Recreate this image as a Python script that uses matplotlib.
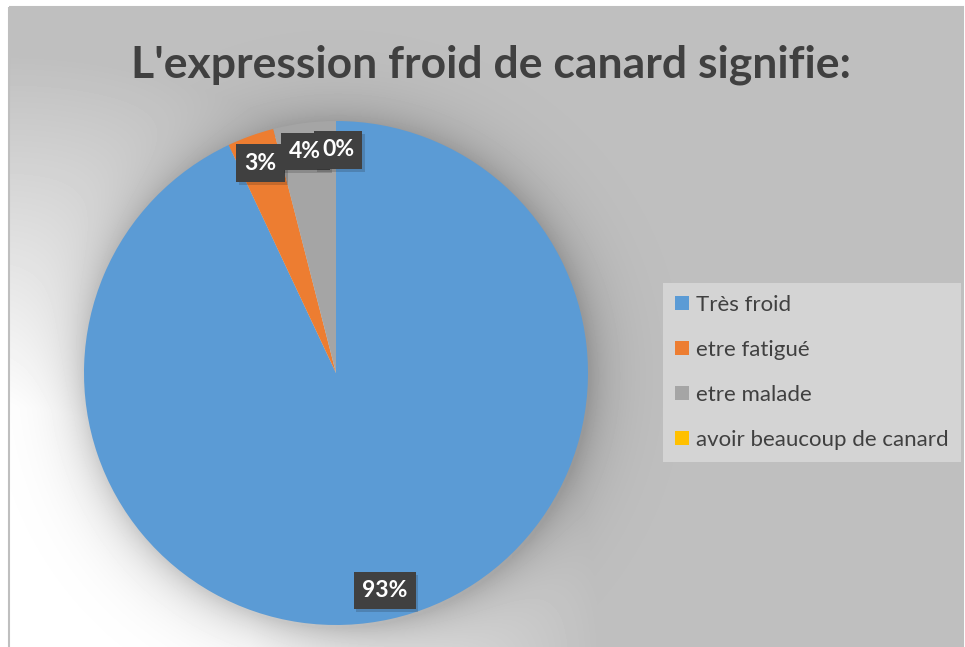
import numpy as np
import matplotlib
matplotlib.use("Agg")
import matplotlib.pyplot as plt
import matplotlib.patheffects as pe
import matplotlib.transforms as mtransforms
from matplotlib.patches import Rectangle

# ---------------- data ----------------
categories = ["Très froid", "etre fatigué", "etre malade", "avoir beaucoup de canard"]
values = [93, 3, 4, 0]
colors = ["#5B9BD5", "#ED7D31", "#A5A5A5", "#FFC000"]
title = "L'expression froid de canard signifie:"

# small horizontal nudges (points) so the crowded labels do not overlap
label_nudge = [0, 0, -2, 1.5]

plt.rcParams['font.family'] = ['Lato', 'DejaVu Sans']

W, H = 965, 647
fig = plt.figure(figsize=(W / 100, H / 100), dpi=100)

# pie geometry (pixels, y from top)
cx, cy, r = 336, 373, 252

# ---------------- background: gray with light corner + pie shadow ----------------
bg = fig.add_axes([0, 0, 1, 1])
bg.axis('off')
yy, xx = np.mgrid[0:H, 0:W] + 0.5
d = np.hypot(xx - 9, yy - H)
t = np.clip((d - 240) / 350, 0, 1)
v = 255 - 64 * t
ds = np.hypot(xx - (cx + 2), yy - (cy + 3)) - r
shade = np.where(ds > -5, 0.2 * np.exp(-np.clip(ds, 0, None) / 24), 0)
v = v * (1 - shade)
inside = (xx >= 9) & (xx <= 963) & (yy >= 7)
img = np.where(inside, v, 255)
bg.imshow(img, cmap='gray', vmin=0, vmax=255, extent=[0, W, H, 0],
          aspect='auto', interpolation='bilinear')
bg.add_patch(Rectangle((9, 7), 954, 660, fill=False, edgecolor='#bfbfbf', lw=1.5))
bg.set_xlim(0, W)
bg.set_ylim(H, 0)

# ---------------- pie ----------------
ax = fig.add_axes([(cx - r) / W, (H - cy - r) / H, 2 * r / W, 2 * r / H])
wedges, texts, autotexts = ax.pie(
    values, colors=colors, startangle=90, counterclock=False,
    autopct='%1.0f%%', pctdistance=0.885,
    wedgeprops=dict(linewidth=0))

# label boxes drawn below all label texts so overlapping labels stay readable
for at, dx in zip(autotexts, label_nudge):
    x, y = at.get_position()
    tr = mtransforms.offset_copy(ax.transData, fig=fig, x=dx, y=0, units='points')
    box = ax.text(x, y, at.get_text(), ha='center', va='center', fontsize=16.5,
                  fontweight='bold', color='none', zorder=3, transform=tr,
                  bbox=dict(boxstyle='square,pad=0.36', facecolor='#404040', edgecolor='none'))
    box.get_bbox_patch().set_path_effects(
        [pe.SimplePatchShadow(offset=(2, -2), alpha=0.18), pe.Normal()])
    at.set_transform(tr)
    at.set_color('white')
    at.set_fontsize(16.5)
    at.set_fontweight('bold')
    at.set_zorder(4)
ax.set_xlim(-1, 1)
ax.set_ylim(-1, 1)

# ---------------- title ----------------
fig.text(491 / W, 1 - 65 / H, title, ha='center', va='center', fontsize=32,
         fontweight='bold', color='#404040')

# ---------------- legend ----------------
leg = fig.legend(wedges, categories, loc='upper left',
                 bbox_to_anchor=(663 / W, 1 - 283 / H),
                 frameon=True, fancybox=False, facecolor='#D4D4D4', edgecolor='none',
                 framealpha=1, fontsize=16, labelcolor='#404040',
                 handlelength=0.6, handleheight=0.6, handletextpad=0.35,
                 labelspacing=1.12, borderpad=0.55, borderaxespad=0)

fig.savefig("out.png", dpi=100)
